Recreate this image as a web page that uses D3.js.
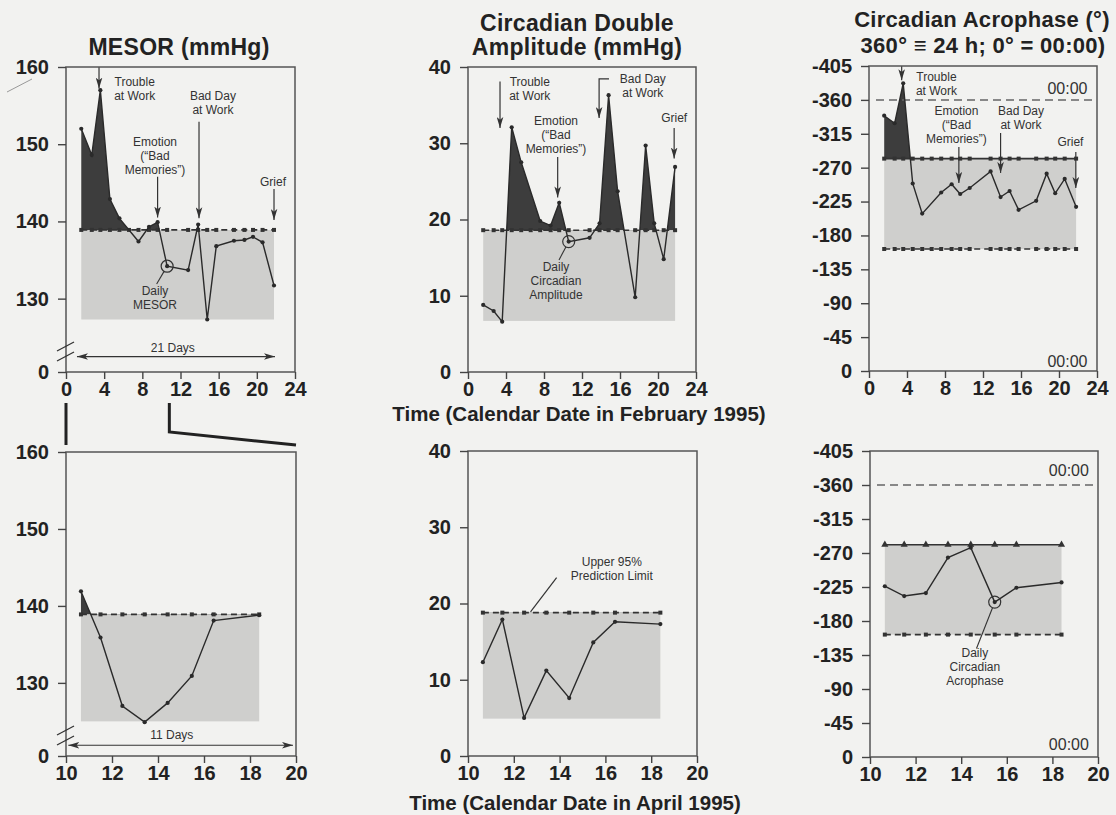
<!DOCTYPE html>
<html>
<head>
<meta charset="utf-8">
<script src="https://cdn.jsdelivr.net/npm/d3@7"></script>
<style>
  body { margin: 0; background: #f2f2f0; }
  svg { display: block; font-family: "Liberation Sans", Arial, Helvetica, sans-serif; }
  .tick text { font-size: 20px; font-weight: bold; fill: #222; }
  .tick line { stroke: #444; stroke-width: 1.4; }
  .title { font-size: 23px; font-weight: bold; fill: #222; text-anchor: middle; letter-spacing: 0.3px; }
  .title.small { font-size: 22px; }
  .axis-title { font-size: 20.5px; font-weight: bold; fill: #222; text-anchor: middle; }
  .note { font-size: 12px; fill: #333; text-anchor: middle; }
  .clock { font-size: 16px; fill: #333; text-anchor: end; }
</style>
</head>
<body>
<svg width="1116" height="815"></svg>
<script>
// February 1995 - days of measurement and daily values (null = no value that day)
var febDays      = [1.6, 2.7, 3.6, 4.6, 5.6, 6.6, 7.6, 8.7, 9.6, 10.6, 12.8, 13.85, 14.8, 15.75, 17.6, 18.7, 19.6, 20.6, 21.8];
var febMesor     = [152.0, 148.6, 157.0, 142.9, 140.4, null, 137.4, 139.3, 139.9, 134.2, 133.7, 139.6, 127.3, 136.8, 137.5, 137.6, 138.0, 137.3, 131.7];
var febAmplitude = [8.8, 8.0, 6.6, 32.1, 27.5, null, 19.8, 19.2, 22.2, 17.1, 17.6, 19.5, 36.3, 23.7, 9.8, 29.7, 19.5, 14.8, 26.9];
var febAcrophase = [-339, -329, -382, -249, -209, null, -237, -248, -235, -243, -265, -231, -239, -214, -226, -262, -236, -255, -218];

// April 1995
var aprDays      = [10.65, 11.5, 12.45, 13.42, 14.42, 15.47, 16.42, 18.4];
var aprMesor     = [141.9, 135.9, 127.0, 124.9, 127.4, 130.9, 138.1, 138.8];
var aprAmplitude = [12.3, 17.9, 5.0, 11.2, 7.6, 14.9, 17.6, 17.3];
var aprAcrophase = [-226, -213, -217, -264, -277, -205, -224, -231];

// 95% prediction limits [lower, upper]
var febMesorLimits     = [127.3, 138.9];
var febAmplitudeLimits = [6.7, 18.6];
var febAcrophaseLimits = [-162, -282];
var aprMesorLimits     = [125.0, 138.9];
var aprAmplitudeLimits = [4.9, 18.8];
var aprAcrophaseLimits = [-162, -281];

// ticks
var mesorTicks = [130, 140, 150, 160];
var mesorBreak = 120.5;            // bottom of broken axis, labelled "0"
var amplitudeTicks = [0, 10, 20, 30, 40];
var acrophaseTicks = [0, -45, -90, -135, -180, -225, -270, -315, -360, -405];
var midnight = -360;
var febTicks = [0, 4, 8, 12, 16, 20, 24];
var aprTicks = [10, 12, 14, 16, 18, 20];

var svg = d3.select("svg");

var defs = svg.append("defs");
defs.append("marker")
    .attr("id", "arrow")
    .attr("viewBox", "0 0 10 6")
    .attr("refX", 10).attr("refY", 3)
    .attr("markerWidth", 11).attr("markerHeight", 7)
    .attr("markerUnits", "userSpaceOnUse")
    .attr("orient", "auto-start-reverse")
  .append("path")
    .attr("d", "M0,0 L10,3 L0,6 L2.5,3 Z")
    .attr("fill", "#333");

var panels = [
  { left: 66, top: 67, w: 229, h: 305, xDomain: [0, 24], xTicks: febTicks,
    yDomain: [mesorBreak, 160], yTicks: [mesorBreak].concat(mesorTicks), broken: true,
    days: febDays, values: febMesor, limits: febMesorLimits, phase: false, circle: 9,
    notes: [
      { lines: ["Trouble", "at Work"], at: [7.2, 157.5], path: [[3.46, 160], [3.46, 157.2]] },
      { lines: ["Bad Day", "at Work"], at: [15.4, 155.7], path: [[13.94, 152.9], [13.94, 140.4]] },
      { lines: ["Emotion", "(\u201cBad", "Memories\u201d)"], at: [9.33, 149.8], path: [[9.6, 145.8], [9.6, 140.5]] },
      { lines: ["Grief"], at: [21.7, 144.6], path: [[21.8, 144.2], [21.8, 140.2]] },
      { lines: ["Daily", "MESOR"], at: [9.33, 130.5], leader: [9.5, 131.9] },
      { lines: ["21 Days"], at: [11.2, 123.1], both: [[1.15, 122.5], [21.9, 122.5]] }
    ] },
  { left: 468, top: 67, w: 228, h: 305, xDomain: [0, 24], xTicks: febTicks,
    yDomain: [0, 40], yTicks: amplitudeTicks,
    days: febDays, values: febAmplitude, limits: febAmplitudeLimits, phase: false, circle: 9,
    notes: [
      { lines: ["Trouble", "at Work"], at: [6.5, 37.5], path: [[3.37, 38.1], [3.37, 32.0]] },
      { lines: ["Bad Day", "at Work"], at: [18.4, 37.9], path: [[14.84, 38.45], [13.8, 38.45], [13.8, 33.3]] },
      { lines: ["Emotion", "(\u201cBad", "Memories\u201d)"], at: [9.26, 32.4], path: [[9.44, 28.2], [9.44, 22.9]] },
      { lines: ["Grief"], at: [21.7, 32.8], path: [[21.7, 32.0], [21.7, 28.0]] },
      { lines: ["Daily", "Circadian", "Amplitude"], at: [9.26, 13.2], leader: [9.58, 14.7] }
    ] },
  { left: 869, top: 66, w: 228, h: 305, xDomain: [0, 24], xTicks: febTicks,
    yDomain: [0, -405], yTicks: acrophaseTicks,
    days: febDays, values: febAcrophase, limits: febAcrophaseLimits, phase: true, upperMark: "square",
    clock: [23.0, -368, -5.3],
    notes: [
      { lines: ["Trouble", "at Work"], at: [7.1, -385], path: [[3.44, -405], [3.44, -386]] },
      { lines: ["Emotion", "(\u201cBad", "Memories\u201d)"], at: [9.2, -340], path: [[9.46, -297.5], [9.46, -249.7]] },
      { lines: ["Bad Day", "at Work"], at: [16.0, -340], path: [[13.85, -316], [13.85, -263]] },
      { lines: ["Grief"], at: [21.2, -299], path: [[21.77, -290.8], [21.77, -243]] }
    ] },
  { left: 66, top: 452, w: 230, h: 304, xDomain: [10, 20], xTicks: aprTicks,
    yDomain: [mesorBreak, 160], yTicks: [mesorBreak].concat(mesorTicks), broken: true,
    days: aprDays, values: aprMesor, limits: aprMesorLimits, phase: false,
    notes: [
      { lines: ["11 Days"], at: [14.6, 122.65], both: [[10.1, 121.9], [19.87, 121.9]] }
    ] },
  { left: 468, top: 451, w: 229, h: 305, xDomain: [10, 20], xTicks: aprTicks,
    yDomain: [0, 40], yTicks: amplitudeTicks,
    days: aprDays, values: aprAmplitude, limits: aprAmplitudeLimits, phase: false,
    notes: [
      { lines: ["Upper 95%", "Prediction Limit"], at: [16.28, 24.9], path: [[13.87, 23.4], [12.73, 18.9]], plain: true }
    ] },
  { left: 870, top: 451, w: 228, h: 306, xDomain: [10, 20], xTicks: aprTicks,
    yDomain: [0, -405], yTicks: acrophaseTicks,
    days: aprDays, values: aprAcrophase, limits: aprAcrophaseLimits, phase: true, upperMark: "triangle", circle: 5,
    clock: [19.6, -372, -9],
    notes: [
      { lines: ["Daily", "Circadian", "Acrophase"], at: [14.6, -132], leader: [14.67, -143.6] }
    ] }
];

function limitLine(g, x, y, days, value, dashed, mark) {
  g.append("line")
      .attr("x1", x(days[0])).attr("x2", x(days[days.length - 1]))
      .attr("y1", y(value)).attr("y2", y(value))
      .attr("stroke", "#333").attr("stroke-width", 1.6)
      .attr("stroke-dasharray", dashed ? "6,4" : null);
  var sym = d3.symbol().type(mark === "triangle" ? d3.symbolTriangle : d3.symbolSquare).size(mark === "triangle" ? 22 : 16);
  g.selectAll(null)
    .data(days)
    .enter()
    .append("path")
      .attr("transform", function(d) { return "translate(" + x(d) + "," + y(value) + ")"; })
      .attr("d", sym)
      .attr("fill", "#333");
}

panels.forEach(function(p, i) {
  var g = svg.append("g").attr("transform", "translate(" + p.left + "," + p.top + ")");
  var x = d3.scaleLinear().domain(p.xDomain).range([0, p.w]);
  var y = d3.scaleLinear().domain(p.yDomain).range([p.h, 0]);
  var lower = p.limits[0], upper = p.limits[1];
  var first = p.days[0], last = p.days[p.days.length - 1];
  var pts = p.days
    .map(function(d, k) { return { day: d, v: p.values[k] }; })
    .filter(function(d) { return d.v !== null; });

  // prediction band
  g.append("rect")
      .attr("x", x(first)).attr("width", x(last) - x(first))
      .attr("y", Math.min(y(upper), y(lower)))
      .attr("height", Math.abs(y(lower) - y(upper)))
      .attr("fill", "#cfcfcd");

  // excess above the upper limit
  g.append("clipPath").attr("id", "above" + i)
    .append("rect").attr("x", 0).attr("y", 0).attr("width", p.w).attr("height", y(upper));
  g.append("path")
      .datum(pts)
      .attr("clip-path", "url(#above" + i + ")")
      .attr("fill", "#3d3d3d")
      .attr("d", d3.area()
        .x(function(d) { return x(d.day); })
        .y0(y(upper))
        .y1(function(d) { return y(d.v); }));

  if (p.phase) {
    g.append("line")
        .attr("x1", x(p.xDomain[0]) + 7).attr("x2", p.w)
        .attr("y1", y(midnight)).attr("y2", y(midnight))
        .attr("stroke", "#666").attr("stroke-width", 1.5)
        .attr("stroke-dasharray", "8,5");
    g.append("text").attr("class", "clock")
        .attr("x", x(p.clock[0])).attr("y", y(p.clock[1])).text("00:00");
    g.append("text").attr("class", "clock")
        .attr("x", x(p.clock[0])).attr("y", y(p.clock[2])).text("00:00");
    limitLine(g, x, y, p.days, upper, false, p.upperMark);
    limitLine(g, x, y, p.days, lower, true, "square");
  } else {
    limitLine(g, x, y, p.days, upper, true, "square");
  }

  // daily values
  g.append("path")
      .datum(pts)
      .attr("fill", "none")
      .attr("stroke", "#2a2a2a")
      .attr("stroke-width", 1.4)
      .attr("d", d3.line()
        .x(function(d) { return x(d.day); })
        .y(function(d) { return y(d.v); }));
  g.selectAll(".dot")
    .data(pts)
    .enter()
    .append("circle")
      .attr("class", "dot")
      .attr("cx", function(d) { return x(d.day); })
      .attr("cy", function(d) { return y(d.v); })
      .attr("r", 2.1)
      .attr("fill", "#2a2a2a");

  var cp = null;
  if (p.circle !== undefined) {
    cp = { x: x(p.days[p.circle]), y: y(p.values[p.circle]) };
    g.append("circle")
        .attr("cx", cp.x).attr("cy", cp.y).attr("r", 6)
        .attr("fill", "none").attr("stroke", "#333").attr("stroke-width", 1.2);
  }

  // annotations
  p.notes.forEach(function(n) {
    var t = g.append("text").attr("class", "note")
        .attr("x", x(n.at[0])).attr("y", y(n.at[1]));
    n.lines.forEach(function(s, k) {
      t.append("tspan").attr("x", x(n.at[0])).attr("dy", k === 0 ? 0 : 14).text(s);
    });
    if (n.path) {
      g.append("path")
          .attr("d", d3.line()(n.path.map(function(q) { return [x(q[0]), y(q[1])]; })))
          .attr("fill", "none").attr("stroke", "#333").attr("stroke-width", 1.2)
          .attr("marker-end", n.plain ? null : "url(#arrow)");
    }
    if (n.both) {
      g.append("line")
          .attr("x1", x(n.both[0][0])).attr("y1", y(n.both[0][1]))
          .attr("x2", x(n.both[1][0])).attr("y2", y(n.both[1][1]))
          .attr("stroke", "#333").attr("stroke-width", 1.2)
          .attr("marker-start", "url(#arrow)").attr("marker-end", "url(#arrow)");
    }
    if (n.leader && cp) {
      var ex = x(n.leader[0]), ey = y(n.leader[1]);
      var dx = ex - cp.x, dy = ey - cp.y, len = Math.sqrt(dx * dx + dy * dy);
      g.append("line")
          .attr("x1", cp.x + dx / len * 6).attr("y1", cp.y + dy / len * 6)
          .attr("x2", ex).attr("y2", ey)
          .attr("stroke", "#333").attr("stroke-width", 1.1);
    }
  });

  // frame
  g.append("rect")
      .attr("width", p.w).attr("height", p.h)
      .attr("fill", "none").attr("stroke", "#555").attr("stroke-width", 1.5);

  // axes
  var yAxis = g.append("g")
      .call(d3.axisLeft(y).tickValues(p.yTicks).tickSize(8).tickPadding(9)
        .tickFormat(function(d) { return p.broken && d === mesorBreak ? "0" : String(d); }));
  yAxis.select(".domain").remove();
  var xAxis = g.append("g")
      .attr("transform", "translate(0," + p.h + ")")
      .call(d3.axisBottom(x).tickValues(p.xTicks).tickSize(7).tickPadding(3));
  xAxis.select(".domain").remove();

  if (p.broken) {
    [22, 12].forEach(function(off) {
      g.append("line")
          .attr("x1", -9).attr("y1", p.h - off + 1)
          .attr("x2", 8).attr("y2", p.h - off - 8)
          .attr("stroke", "#333").attr("stroke-width", 1.3);
    });
  }

  p.x = x;
});

// titles
svg.append("text").attr("class", "title").attr("x", 179).attr("y", 55).text("MESOR (mmHg)");
svg.append("text").attr("class", "title").attr("x", 577).attr("y", 31).text("Circadian Double");
svg.append("text").attr("class", "title").attr("x", 577).attr("y", 55).text("Amplitude (mmHg)");
svg.append("text").attr("class", "title small").attr("x", 982).attr("y", 27).text("Circadian Acrophase (\u00b0)");
svg.append("text").attr("class", "title small").attr("x", 983).attr("y", 53).text("360\u00b0 \u2261 24 h; 0\u00b0 = 00:00)");

svg.append("text").attr("class", "axis-title").attr("x", 579).attr("y", 421).text("Time (Calendar Date in February 1995)");
svg.append("text").attr("class", "axis-title").attr("x", 575).attr("y", 810).text("Time (Calendar Date in April 1995)");

// zoom connector between February and April MESOR panels
var fx = panels[0].x;
svg.append("path")
    .attr("d", "M" + (66 + fx(0)) + ",403 V445")
    .attr("fill", "none").attr("stroke", "#222").attr("stroke-width", 3);
svg.append("path")
    .attr("d", "M" + (66 + fx(10.83)) + ",403 V432 L296,445")
    .attr("fill", "none").attr("stroke", "#222").attr("stroke-width", 3);

// pen stroke left on the scanned page beside the 160 label
svg.append("line")
    .attr("x1", 7).attr("y1", 92).attr("x2", 32).attr("y2", 79)
    .attr("stroke", "#999").attr("stroke-width", 1);
</script>
</body>
</html>
